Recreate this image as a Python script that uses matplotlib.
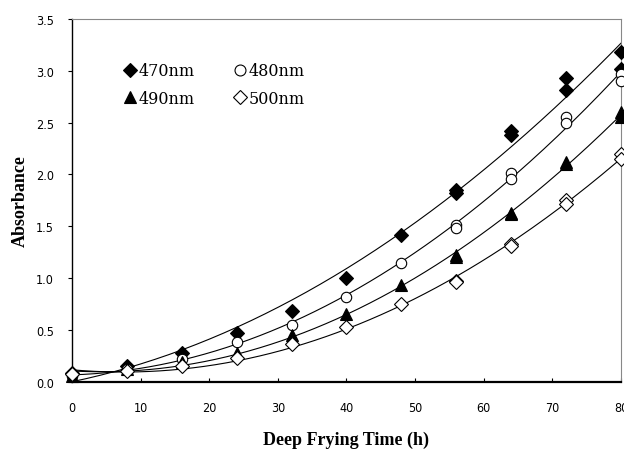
import numpy as np
import matplotlib
matplotlib.use("Agg")
import matplotlib.pyplot as plt
from matplotlib.lines import Line2D

# Data (replicate measurements at each frying time)
time_h = [0, 8, 16, 24, 32, 40, 48, 56, 56, 64, 64, 72, 72, 80, 80]
abs_470 = [0.08, 0.15, 0.28, 0.47, 0.68, 1.00, 1.42, 1.85, 1.82, 2.42, 2.38, 2.93, 2.82, 3.18, 3.02]
abs_480 = [0.06, 0.12, 0.22, 0.38, 0.55, 0.82, 1.15, 1.51, 1.48, 2.01, 1.96, 2.55, 2.50, 2.97, 2.90]
abs_490 = [0.06, 0.12, 0.19, 0.28, 0.45, 0.65, 0.93, 1.22, 1.20, 1.63, 1.62, 2.12, 2.10, 2.60, 2.55]
abs_500 = [0.07, 0.10, 0.15, 0.23, 0.36, 0.53, 0.75, 0.97, 0.96, 1.33, 1.31, 1.75, 1.72, 2.20, 2.15]

labels = ["470nm", "480nm", "490nm", "500nm"]
x_ticks = [0, 10, 20, 30, 40, 50, 60, 70, 80]
y_ticks = [0.0, 0.5, 1.0, 1.5, 2.0, 2.5, 3.0, 3.5]

series = [abs_470, abs_480, abs_490, abs_500]
styles = [
    dict(marker="D", mfc="black", mec="black", ms=7),
    dict(marker="o", mfc="white", mec="black", ms=7.5),
    dict(marker="^", mfc="black", mec="black", ms=8.5),
    dict(marker="D", mfc="white", mec="black", ms=7),
]

fig = plt.figure(figsize=(6.24, 4.56), dpi=100)
ax = fig.add_axes([0.1154, 0.1607, 0.8796, 0.7953])

serif = ["Liberation Serif", "DejaVu Serif"]

xs = np.linspace(0, 80, 200)
t = np.array(time_h, dtype=float)
for vals, st in zip(series, styles):
    v = np.array(vals)
    coef = np.polyfit(t, v, 2)
    ax.plot(xs, np.polyval(coef, xs), color="black", lw=0.8, zorder=2)
    ax.plot(t, v, ls="none", mew=0.8, zorder=3, clip_on=False, **st)

ax.set_xlim(0, 80)
ax.set_ylim(0, 3.5)
ax.set_xticks(x_ticks)
ax.set_yticks(y_ticks)
tick_font = dict(family="DejaVu Sans", fontstretch="condensed", fontsize=9)
ax.set_xticklabels([str(v) for v in x_ticks], **tick_font)
ax.set_yticklabels([f"{v:.1f}" for v in y_ticks], **tick_font)
ax.tick_params(axis="x", direction="in", length=3, pad=14, color="black")
ax.tick_params(axis="y", direction="out", length=3, pad=10, color="black")

for s in ["top", "right"]:
    ax.spines[s].set_linestyle((0, (1, 1)))
    ax.spines[s].set_color("#888888")
    ax.spines[s].set_linewidth(0.8)
ax.spines["left"].set_linewidth(1.0)
ax.spines["bottom"].set_linewidth(1.6)

ax.set_xlabel("Deep Frying Time (h)", family=serif, fontweight="bold", fontsize=13, labelpad=12)
ax.set_ylabel("Absorbance", family=serif, fontweight="bold", fontsize=13, labelpad=5)

handles = [Line2D([], [], ls="none", mew=0.8, **{**st, "ms": st["ms"] * 1.05}) for st in styles]
order = [0, 2, 1, 3]
leg = ax.legend([handles[i] for i in order], [labels[i] for i in order], ncol=2,
                loc="upper left", bbox_to_anchor=(0.065, 0.92), frameon=False,
                prop={"family": "DejaVu Serif", "size": 11.5}, handletextpad=0.05,
                columnspacing=2.3, labelspacing=0.65, handlelength=1.0)

fig.savefig("out.png", dpi=100)
